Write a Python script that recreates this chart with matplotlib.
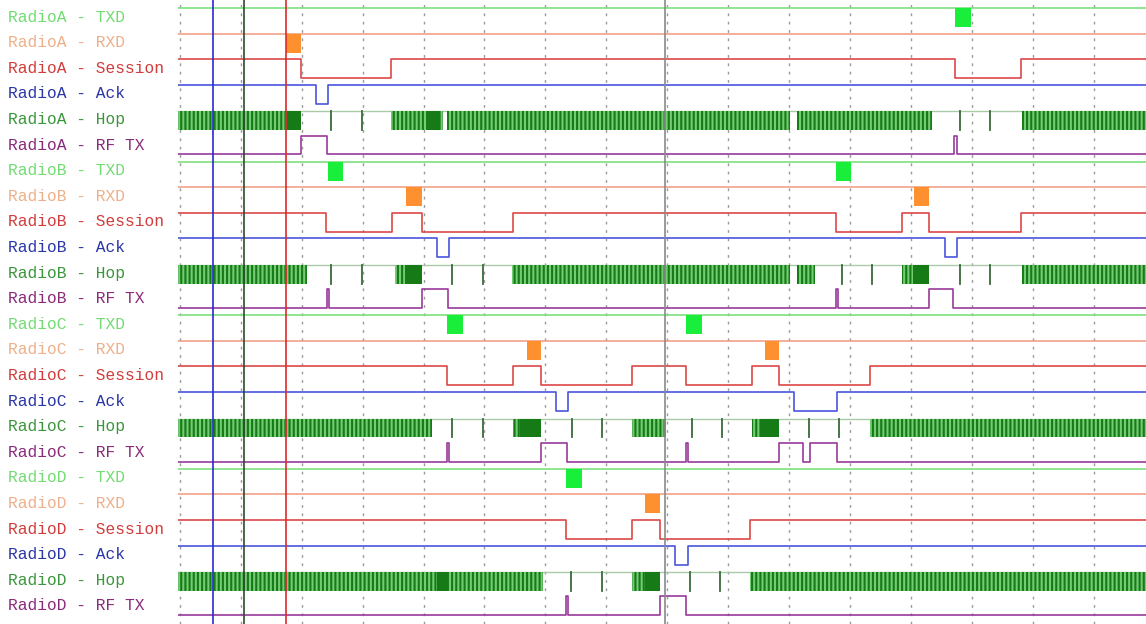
import matplotlib
matplotlib.use('Agg')
import matplotlib.pyplot as plt
from matplotlib.patches import Rectangle
from matplotlib.transforms import blended_transform_factory

# ---------------- data (time in grid divisions) ----------------
RADIOS = ['RadioA', 'RadioB', 'RadioC', 'RadioD']
SIGNALS = ['TXD', 'RXD', 'Session', 'Ack', 'Hop', 'RF TX']
T_START, T_END = -0.03, 15.86
GRID_TICKS = list(range(0, 16))
CURSORS = [0.54, 1.05, 1.74, 7.96]

# TXD / RXD active frames (boxes)
A_TXD = [(12.73, 12.99)]
B_TXD = [(2.43, 2.68), (10.77, 11.02)]
C_TXD = [(4.38, 4.65), (8.31, 8.57)]
D_TXD = [(6.34, 6.60)]

A_RXD = [(1.74, 1.99)]
B_RXD = [(3.71, 3.97), (12.05, 12.30)]
C_RXD = [(5.70, 5.93), (9.61, 9.84)]
D_RXD = [(7.64, 7.88)]

# Session low intervals
A_SESSION = [(1.99, 3.46), (12.73, 13.81)]
B_SESSION = [(2.40, 3.48), (3.97, 5.47), (10.77, 11.86), (12.30, 13.81)]
C_SESSION = [(4.38, 5.47), (5.93, 7.42), (8.31, 9.39), (9.84, 11.33)]
D_SESSION = [(6.34, 7.42), (7.88, 9.36)]

# Ack low intervals
A_ACK = [(2.23, 2.43)]
B_ACK = [(4.22, 4.42), (12.56, 12.76)]
C_ACK = [(6.17, 6.37), (10.08, 10.79)]
D_ACK = [(8.13, 8.34)]

# Hop activity: dense bursts, solid dark blocks, single ticks
A_HOP_BURST = [(-0.03, 1.99), (3.47, 4.32), (4.38, 10.02), (10.13, 12.35), (13.83, 15.86)]
B_HOP_BURST = [(-0.03, 2.09), (3.53, 3.97), (5.45, 10.02), (10.13, 10.43), (11.86, 12.30), (13.83, 15.86)]
C_HOP_BURST = [(-0.03, 4.14), (5.47, 5.93), (7.42, 7.98), (9.39, 9.84), (11.33, 15.86)]
D_HOP_BURST = [(-0.03, 5.96), (7.42, 7.88), (9.36, 15.86)]

A_HOP_DARK = [(1.74, 1.99), (4.07, 4.27)]
B_HOP_DARK = [(3.70, 3.97), (12.04, 12.30)]
C_HOP_DARK = [(5.58, 5.93), (9.52, 9.84)]
D_HOP_DARK = [(4.22, 4.40), (7.64, 7.88)]

A_HOP_TICK = [2.48, 2.99, 12.81, 13.30]
B_HOP_TICK = [2.48, 2.99, 4.47, 4.98, 10.87, 11.36, 12.81, 13.30]
C_HOP_TICK = [4.47, 4.97, 6.44, 6.93, 8.41, 8.90, 10.33, 10.82]
D_HOP_TICK = [6.42, 6.93, 8.37, 8.87]

# RF TX high pulses
A_RF = [(1.99, 2.41), (12.71, 12.75)]
B_RF = [(2.41, 2.45), (3.97, 4.40), (10.77, 10.81), (12.30, 12.69)]
C_RF = [(4.38, 4.42), (5.93, 6.35), (8.31, 8.35), (9.84, 10.23), (10.35, 10.79)]
D_RF = [(6.34, 6.38), (7.88, 8.31)]

TXD = [A_TXD, B_TXD, C_TXD, D_TXD]
RXD = [A_RXD, B_RXD, C_RXD, D_RXD]
SESSION = [A_SESSION, B_SESSION, C_SESSION, D_SESSION]
ACK = [A_ACK, B_ACK, C_ACK, D_ACK]
HOP_BURST = [A_HOP_BURST, B_HOP_BURST, C_HOP_BURST, D_HOP_BURST]
HOP_DARK = [A_HOP_DARK, B_HOP_DARK, C_HOP_DARK, D_HOP_DARK]
HOP_TICK = [A_HOP_TICK, B_HOP_TICK, C_HOP_TICK, D_HOP_TICK]
RF = [A_RF, B_RF, C_RF, D_RF]

# ---------------- style ----------------
LABEL_COLORS = {'TXD': '#72dc72', 'RXD': '#eeb08a', 'Session': '#d23c3c',
                'Ack': '#2a35a8', 'Hop': '#3b953b', 'RF TX': '#8a2a7a'}
LINE_TXD = '#7ee07e'
BOX_TXD = '#19ee3a'
LINE_RXD = '#f09a80'
BOX_RXD = '#ff9030'
LINE_SES = '#dd4848'
LINE_ACK = '#4a55dd'
LINE_RF = '#9a3a9a'
HOP_LIGHT = '#74cc74'
HOP_DARKC = '#167a16'
HOP_IDLE = '#a9c9a9'
CURSOR_COLORS = ['#2a2ad0', '#2d4a2d', '#dd2a2a', '#8a8a8a']

HI, LO = 0.12, 0.86

plt.rcParams['hatch.linewidth'] = 1.5
fig = plt.figure(figsize=(11.46, 6.24), dpi=100)
fig.patch.set_facecolor('white')
ax = fig.add_axes([178 / 1146, 0, 1 - 178 / 1146, 1])
ax.set_xlim(T_START, T_END)
ax.set_ylim(24.18, -0.195)
ax.axis('off')

# grid
for g in GRID_TICKS:
    ax.axvline(g, color='#9a9a9a', lw=1.0, ls=(0, (2, 4)), zorder=1)


def step(intervals, base, alt):
    xs, ys = [T_START], [base]
    for a, b in intervals:
        xs += [a, a, b, b]
        ys += [base, alt, alt, base]
    xs.append(T_END)
    ys.append(base)
    return xs, ys


lab_tr = blended_transform_factory(fig.transFigure, ax.transData)

for ri, radio in enumerate(RADIOS):
    base = ri * 6
    for si, sig in enumerate(SIGNALS):
        r = base + si
        ax.text(8 / 1146, r + 0.47, f'{radio} - {sig}', transform=lab_tr,
                family=['Liberation Mono', 'DejaVu Sans Mono'], fontsize=11.7,
                color=LABEL_COLORS[sig], ha='left', va='center')
    # TXD
    r = base + 0
    ax.plot([T_START, T_END], [r + HI, r + HI], color=LINE_TXD, lw=1.2, zorder=2)
    for a, b in TXD[ri]:
        ax.add_patch(Rectangle((a, r + HI), b - a, LO - HI, color=BOX_TXD, lw=0, zorder=3))
    # RXD
    r = base + 1
    ax.plot([T_START, T_END], [r + HI, r + HI], color=LINE_RXD, lw=1.1, zorder=2)
    for a, b in RXD[ri]:
        ax.add_patch(Rectangle((a, r + HI), b - a, LO - HI, color=BOX_RXD, lw=0, zorder=3))
    # Session
    r = base + 2
    xs, ys = step(SESSION[ri], r + HI, r + LO)
    ax.plot(xs, ys, color=LINE_SES, lw=1.2, zorder=2)
    # Ack
    r = base + 3
    xs, ys = step(ACK[ri], r + HI, r + LO)
    ax.plot(xs, ys, color=LINE_ACK, lw=1.2, zorder=2)
    # Hop
    r = base + 4
    ax.plot([T_START, T_END], [r + 0.16, r + 0.16], color=HOP_IDLE, lw=1.0, zorder=2)
    for a, b in HOP_BURST[ri]:
        ax.add_patch(Rectangle((a, r + 0.16), b - a, 0.72, facecolor=HOP_LIGHT,
                               edgecolor=HOP_DARKC, hatch='|' * 4, lw=0, zorder=3))
    for a, b in HOP_DARK[ri]:
        ax.add_patch(Rectangle((a, r + 0.16), b - a, 0.72, color=HOP_DARKC, lw=0, zorder=4))
    for t in HOP_TICK[ri]:
        ax.plot([t, t], [r + 0.16, r + 0.88], color='#3a6a3a', lw=1.3, zorder=4)
    # RF TX
    r = base + 5
    xs, ys = step(RF[ri], r + 0.84, r + 0.1)
    ax.plot(xs, ys, color=LINE_RF, lw=1.2, zorder=2)

for c, col in zip(CURSORS, CURSOR_COLORS):
    ax.axvline(c, color=col, lw=1.2, zorder=6)

fig.savefig('out.png', dpi=100, facecolor='white')
